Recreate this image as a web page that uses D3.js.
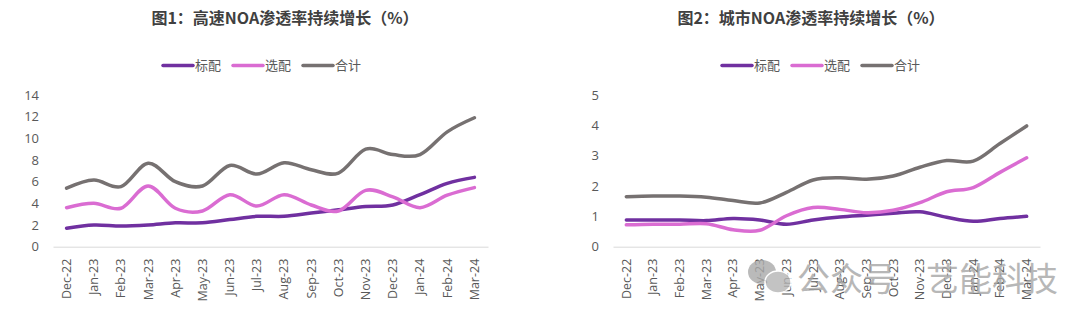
<!DOCTYPE html>
<html><head><meta charset="utf-8">
<script src="https://cdn.jsdelivr.net/npm/d3@7"></script>
<style>
html,body{margin:0;padding:0;background:#fff;}
svg{display:block;font-family:"Noto Sans CJK SC","Open Sans",sans-serif;}
</style></head>
<body><svg id="c" width="1080" height="322"></svg>
<script>
const months = ["Dec-22","Jan-23","Feb-23","Mar-23","Apr-23","May-23","Jun-23","Jul-23","Aug-23","Sep-23","Oct-23","Nov-23","Dec-23","Jan-24","Feb-24","Mar-24"];
const seriesNames = ["标配","选配","合计"];
const seriesColors = ["#7030A0","#DA6CD2","#767171"];

// Chart 1: 高速NOA
const hwStandard = [1.7,2.0,1.9,2.0,2.2,2.2,2.5,2.8,2.8,3.1,3.4,3.7,3.85,4.8,5.85,6.4];
const hwOptional = [3.6,4.0,3.55,5.6,3.55,3.3,4.8,3.75,4.8,3.85,3.3,5.2,4.6,3.6,4.75,5.45];
const hwTotal    = [5.4,6.15,5.55,7.7,6.0,5.6,7.5,6.7,7.75,7.1,6.8,9.0,8.5,8.5,10.6,11.9];
const hwTicks = [0,2,4,6,8,10,12,14];

// Chart 2: 城市NOA
const cityStandard = [0.88,0.88,0.88,0.86,0.93,0.88,0.74,0.88,0.98,1.04,1.1,1.15,0.97,0.84,0.93,1.0];
const cityOptional = [0.72,0.74,0.74,0.76,0.56,0.54,1.02,1.29,1.23,1.12,1.2,1.45,1.81,1.95,2.45,2.93];
const cityTotal    = [1.65,1.67,1.67,1.63,1.52,1.44,1.79,2.2,2.27,2.22,2.33,2.62,2.84,2.82,3.4,3.98];
const cityTicks = [0,1,2,3,4,5];

const titles = ["图1：高速NOA渗透率持续增长（%）","图2：城市NOA渗透率持续增长（%）"];

const svg = d3.select("#c");

function drawChart(cfg){
  const g = svg.append("g");
  const x = d3.scaleBand().domain(months).range([cfg.x0, cfg.x1]);
  const y = d3.scaleLinear().domain([0, cfg.ticks[cfg.ticks.length-1]]).range([246.7, 95]);

  g.append("text").attr("x", cfg.titleX).attr("y", 24)
    .attr("text-anchor","middle").attr("font-size",16).attr("font-weight","bold")
    .attr("fill","#404040").text(cfg.title);

  // legend
  const lg = g.append("g");
  seriesNames.forEach((n,i)=>{
    const lx = cfg.legendX + i*70;
    lg.append("line").attr("x1",lx).attr("x2",lx+30).attr("y1",65.5).attr("y2",65.5)
      .attr("stroke",seriesColors[i]).attr("stroke-width",3.5).attr("stroke-linecap","round");
    lg.append("text").attr("x",lx+32).attr("y",70).attr("font-size",13)
      .attr("fill","#595959").text(n);
  });

  // y axis labels
  const ya = d3.axisLeft(y).tickValues(cfg.ticks).tickSize(0).tickPadding(0).tickFormat(d3.format("d"));
  const yg = g.append("g").attr("transform",`translate(${cfg.yLabelX},0)`).call(ya);
  yg.select(".domain").remove();
  yg.selectAll("text").attr("font-size",13).attr("fill","#595959")
    .attr("font-family","'Open Sans',sans-serif");

  // x axis
  const xa = d3.axisBottom(x).tickSize(0).tickPadding(0);
  const xg = g.append("g").attr("transform",`translate(0,${y(0)})`).call(xa);
  xg.select(".domain").attr("stroke","#D9D9D9").attr("stroke-width",1);
  xg.selectAll("text").attr("font-size",12.5).attr("fill","#595959")
    .attr("font-family","'Open Sans',sans-serif")
    .attr("transform","rotate(-90)").attr("text-anchor","end")
    .attr("x",-12).attr("y",0).attr("dy","0.35em");

  const line = d3.line()
    .x((d,i)=>x(months[i]) + x.bandwidth()/2)
    .y(d=>y(d))
    .curve(d3.curveCatmullRom.alpha(0));
  [cfg.s0,cfg.s1,cfg.s2].forEach((s,i)=>{
    g.append("path").datum(s).attr("d",line).attr("fill","none")
      .attr("stroke",seriesColors[i]).attr("stroke-width",3.5)
      .attr("stroke-linejoin","round").attr("stroke-linecap","round");
  });
}

drawChart({x0:53,x1:488,ticks:hwTicks,title:titles[0],titleX:285,legendX:163,yLabelX:39,
  s0:hwStandard,s1:hwOptional,s2:hwTotal});
drawChart({x0:613,x1:1040,ticks:cityTicks,title:titles[1],titleX:811,legendX:722,yLabelX:599,
  s0:cityStandard,s1:cityOptional,s2:cityTotal});

// WeChat watermark overlay
const wm = svg.append("g").attr("opacity",0.8);
wm.append("ellipse").attr("cx",762).attr("cy",272).attr("rx",14).attr("ry",12).attr("fill","#aaaaaa");
wm.append("ellipse").attr("cx",778).attr("cy",282).attr("rx",13).attr("ry",11).attr("fill","#b5b5b5").attr("stroke","#fff").attr("stroke-width",1.5);
wm.append("text").attr("x",797).attr("y",291).attr("font-size",33).attr("fill","#a6a6a6").text("公众号");
wm.append("text").attr("x",926).attr("y",291).attr("font-size",33).attr("fill","#a6a6a6").text("艺能科技");
</script></body></html>
